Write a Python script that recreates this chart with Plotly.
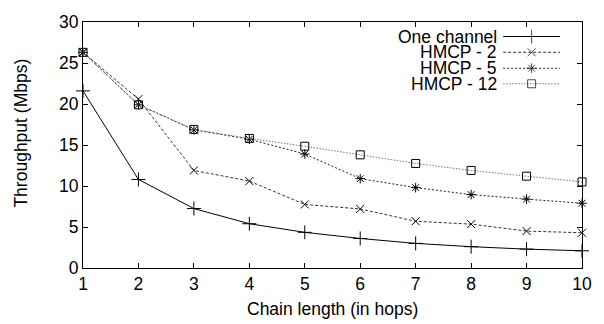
import plotly.graph_objects as go

hops = [1, 2, 3, 4, 5, 6, 7, 8, 9, 10]
one_channel = [21.6, 10.8, 7.25, 5.4, 4.35, 3.6, 3.0, 2.6, 2.3, 2.1]
hmcp_2 = [26.3, 20.6, 11.9, 10.6, 7.75, 7.2, 5.7, 5.35, 4.5, 4.3]
hmcp_5 = [26.3, 19.9, 16.85, 15.7, 13.9, 10.9, 9.8, 8.95, 8.4, 7.9]
hmcp_12 = [26.3, 19.9, 16.9, 15.8, 14.85, 13.8, 12.75, 11.9, 11.2, 10.5]
names = ["One channel", "HMCP - 2", "HMCP - 5", "HMCP - 12"]
x_ticks = [1, 2, 3, 4, 5, 6, 7, 8, 9, 10]
y_ticks = [0, 5, 10, 15, 20, 25, 30]

FONT = "Liberation Sans, Arial, sans-serif"
styles = [
    dict(color="#000000", dash="solid", symbol="cross-thin", msize=10),
    dict(color="#333333", dash="3px,2px", symbol="x-thin", msize=8),
    dict(color="#222222", dash="2px,2px", symbol="asterisk", msize=8),
    dict(color="#777777", dash="1.5px,1.5px", symbol="square-open", msize=8),
]
series = [one_channel, hmcp_2, hmcp_5, hmcp_12]

fig = go.Figure()
for name, ys, st in zip(names, series, styles):
    fig.add_trace(go.Scatter(
        x=hops, y=ys, name=name, mode="lines+markers", cliponaxis=False,
        line=dict(color=st["color"], width=1, dash=st["dash"]),
        marker=dict(symbol=st["symbol"], size=st["msize"], color="#000000",
                    line=dict(color="#000000", width=1)),
        showlegend=False,
    ))

# manual legend (text left of sample, gnuplot style)
leg_x0, leg_x1 = 0.842, 0.956
leg_rows = [0.941, 0.877, 0.812, 0.749]
for name, st, yy in zip(names, styles, leg_rows):
    fig.add_trace(go.Scatter(
        x=[leg_x0, (leg_x0 + leg_x1) / 2, leg_x1], y=[yy, yy, yy],
        xaxis="x2", yaxis="y2", mode="lines+markers", cliponaxis=False,
        line=dict(color=st["color"], width=1, dash=st["dash"]),
        marker=dict(symbol=st["symbol"], size=[0, st["msize"], 0], color="#000000",
                    line=dict(color="#000000", width=1)),
        showlegend=False, hoverinfo="skip",
    ))
    fig.add_annotation(x=0.834, y=yy, xref="paper", yref="paper", text=name,
                       showarrow=False, xanchor="right", yanchor="middle",
                       height=16, valign="middle",
                       font=dict(family=FONT, size=17.5, color="#000"))

fig.add_annotation(x=-0.125, y=0.549, xref="paper", yref="paper",
                   text="Throughput (Mbps)", textangle=-90, showarrow=False,
                   xanchor="center", yanchor="middle",
                   font=dict(family=FONT, size=17.5, color="#000"))
fig.add_annotation(x=0.5, y=-0.167, xref="paper", yref="paper",
                   text="Chain length (in hops)", showarrow=False,
                   xanchor="center", yanchor="middle",
                   font=dict(family=FONT, size=17.5, color="#000"))

axis_common = dict(showgrid=False, zeroline=False, showline=True, linecolor="#000",
                   linewidth=1, ticks="inside", ticklen=5, tickcolor="#000",
                   mirror="allticks",
                   tickfont=dict(family=FONT, size=17.5, color="#000"))
fig.update_layout(
    width=604, height=324,
    margin=dict(l=83, r=20, t=15, b=56, pad=0),
    paper_bgcolor="white", plot_bgcolor="white",
    xaxis=dict(range=[1, 10], tickvals=x_ticks, **axis_common),
    yaxis=dict(range=[0, 30], tickvals=y_ticks, **axis_common),
    xaxis2=dict(range=[0, 1], overlaying="x", visible=False, fixedrange=True),
    yaxis2=dict(range=[0, 1], overlaying="y", visible=False, fixedrange=True),
    font=dict(family=FONT, color="#000"),
)
fig.write_html("out.html", config={"displayModeBar": False},
               post_script="document.body.style.margin='0px';document.body.style.overflow='hidden';")
